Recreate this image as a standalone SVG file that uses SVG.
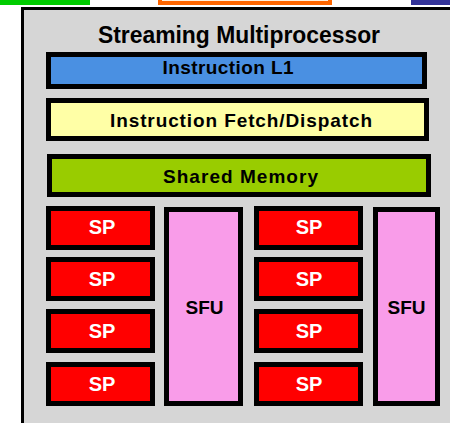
<svg xmlns="http://www.w3.org/2000/svg" width="450" height="423" viewBox="0 0 450 423">
<style>
text{font-family:"Liberation Sans",Arial,sans-serif;text-anchor:middle}
.b{stroke:#000;stroke-width:5}
.lbl{font-size:19px;font-weight:bold;fill:#000}
.sp{fill:#ff0000}
.spt{font-size:20px;font-weight:bold;fill:#fff}
.sfu{fill:#f99ce9}
.sfut{font-size:19px;font-weight:bold;fill:#000}
</style>
<rect width="450" height="423" fill="#fff"/>
<g id="top-bars">
<rect x="0" y="0" width="90" height="5" fill="#00cc00"/>
<rect x="160" y="-20" width="170" height="23" fill="#fff0e0" stroke="#ff6600" stroke-width="4"/>
<rect x="411" y="0" width="40" height="5" fill="#333399"/>
</g>
<g id="sm">
<rect x="22.5" y="8.5" width="460" height="440" fill="#d6d6d6" stroke="#000" stroke-width="3"/>
<text x="239" y="43" font-size="23" font-weight="bold" fill="#000" textLength="282" lengthAdjust="spacingAndGlyphs">Streaming Multiprocessor</text>
</g>
<g id="l1">
<rect class="b" x="48.5" y="54.5" width="376" height="32" fill="#4a90e2"/>
<text class="lbl" x="228" y="74" textLength="131">Instruction L1</text>
</g>
<g id="fetch">
<rect class="b" x="48.5" y="100.5" width="378" height="38" fill="#ffffa6"/>
<text class="lbl" x="241" y="127" textLength="262">Instruction Fetch/Dispatch</text>
</g>
<g id="shmem">
<rect class="b" x="49.5" y="156.5" width="379" height="38" fill="#99cc00"/>
<text class="lbl" x="240.5" y="183" textLength="155">Shared Memory</text>
</g>
<g id="sp1"><rect class="b sp" x="48.5" y="208.5" width="104" height="39"/><text class="spt" x="102" y="234">SP</text></g>
<g id="sp2"><rect class="b sp" x="48.5" y="259.5" width="104" height="39"/><text class="spt" x="102" y="286">SP</text></g>
<g id="sp3"><rect class="b sp" x="48.5" y="311.5" width="104" height="39"/><text class="spt" x="102" y="338">SP</text></g>
<g id="sp4"><rect class="b sp" x="48.5" y="364.5" width="104" height="39"/><text class="spt" x="102" y="391">SP</text></g>
<g id="sfu1"><rect class="b sfu" x="166.5" y="209.5" width="74" height="194"/><text class="sfut" x="204.5" y="314">SFU</text></g>
<g id="sp5"><rect class="b sp" x="256.5" y="208.5" width="104" height="39"/><text class="spt" x="309" y="234">SP</text></g>
<g id="sp6"><rect class="b sp" x="256.5" y="259.5" width="104" height="39"/><text class="spt" x="309" y="286">SP</text></g>
<g id="sp7"><rect class="b sp" x="256.5" y="311.5" width="104" height="39"/><text class="spt" x="309" y="338">SP</text></g>
<g id="sp8"><rect class="b sp" x="256.5" y="364.5" width="104" height="39"/><text class="spt" x="309" y="391">SP</text></g>
<g id="sfu2"><rect class="b sfu" x="375.5" y="209.5" width="62" height="194"/><text class="sfut" x="406.5" y="314">SFU</text></g>
<g id="connectors"></g>
</svg>
